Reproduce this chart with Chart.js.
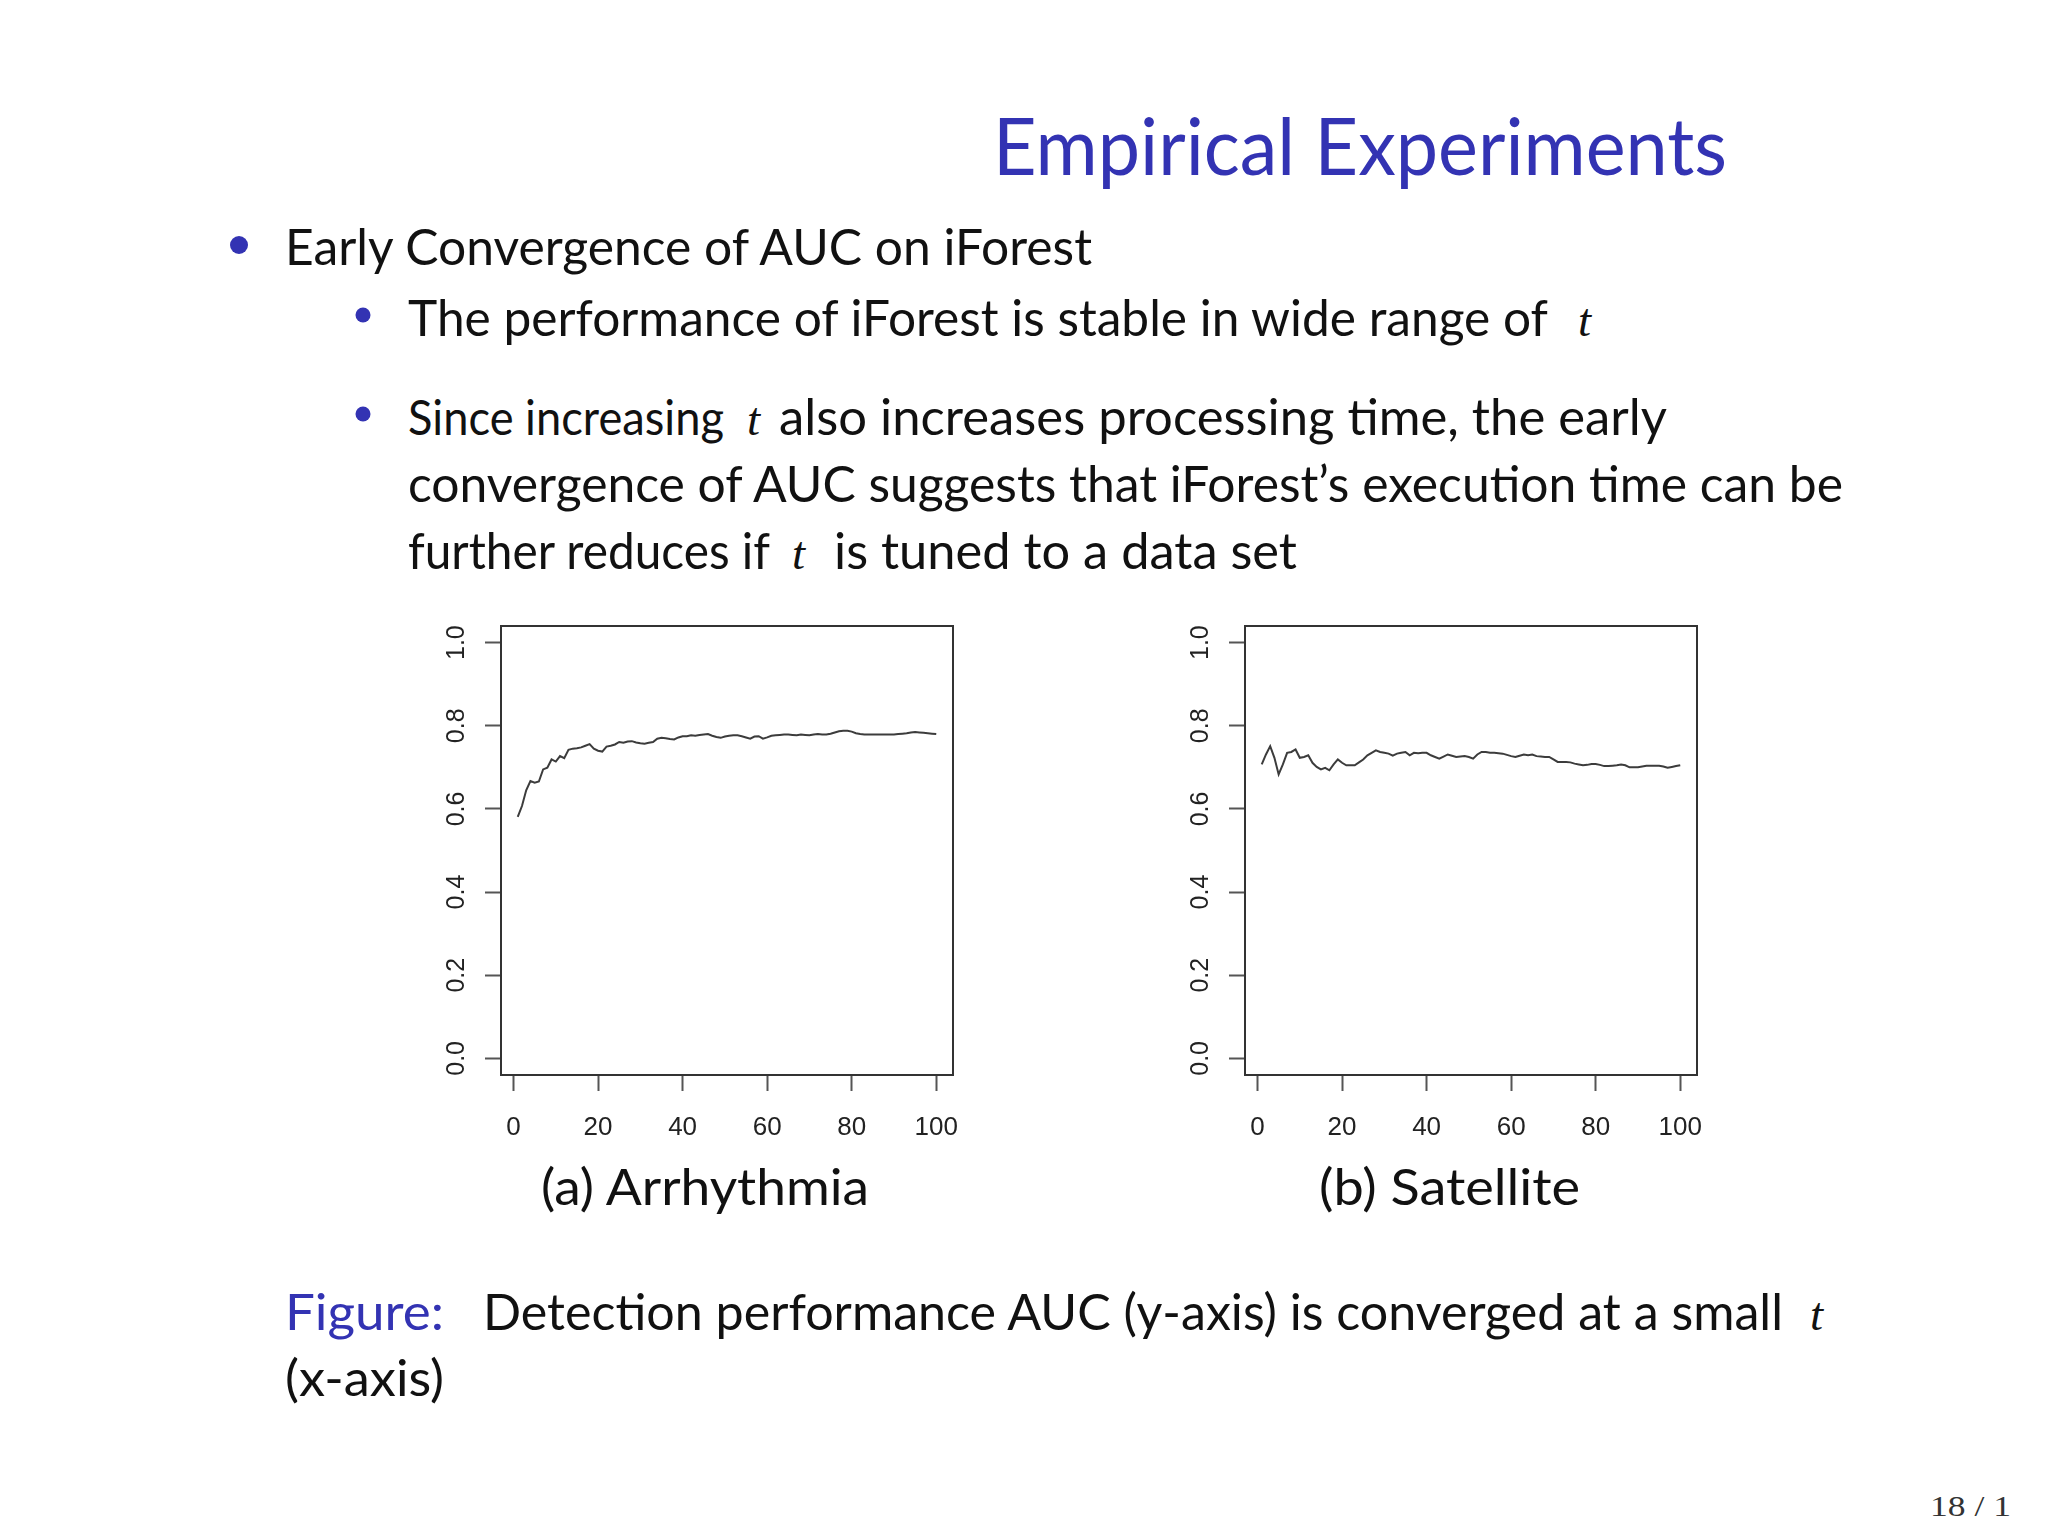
<!DOCTYPE html>
<html>
<head>
<meta charset="utf-8">
<script src="https://cdn.jsdelivr.net/npm/chart.js@4.4.1/dist/chart.umd.min.js"></script>
<style>
  html, body { margin: 0; padding: 0; background: #ffffff; }
  body { width: 2048px; height: 1536px; position: relative; overflow: hidden; }
  #slideText { position: absolute; left: 0; top: 0; }
  #slideText .m { font-family: 'Liberation Serif', serif; font-style: italic; }
  .plot { position: absolute; width: 560px; height: 540px; }
  #chartA { left: 420px; top: 600px; }
  #chartB { left: 1164px; top: 600px; }
</style>
</head>
<body>

<svg id="slideText" width="2048" height="1536" font-family="Lato, 'Open Sans', sans-serif">
  <text x="993" y="175" font-size="80" fill="#3333b3" textLength="734" lengthAdjust="spacingAndGlyphs">Empirical Experiments</text>

  <circle cx="239" cy="245" r="9" fill="#3333b3"/>
  <text x="285" y="265" font-size="51" fill="#111" textLength="807" lengthAdjust="spacingAndGlyphs">Early Convergence of AUC on iForest</text>

  <circle cx="363" cy="315" r="7.5" fill="#3333b3"/>
  <text x="408" y="336" font-size="51" fill="#111" textLength="1140" lengthAdjust="spacingAndGlyphs">The performance of iForest is stable in wide range of</text>
  <text class="m" x="1578" y="336" font-size="47" fill="#111">t</text>

  <circle cx="363" cy="414" r="7.5" fill="#3333b3"/>
  <text x="408" y="435" font-size="48" fill="#111" textLength="316" lengthAdjust="spacingAndGlyphs">Since increasing</text>
  <text class="m" x="747" y="435" font-size="47" fill="#111">t</text>
  <text x="779" y="435" font-size="51" fill="#111" textLength="888" lengthAdjust="spacingAndGlyphs">also increases processing time, the early</text>
  <text x="408" y="502" font-size="51" fill="#111" textLength="1435" lengthAdjust="spacingAndGlyphs">convergence of AUC suggests that iForest’s execution time can be</text>
  <text x="408" y="569" font-size="51" fill="#111" textLength="362" lengthAdjust="spacingAndGlyphs">further reduces if</text>
  <text class="m" x="792" y="569" font-size="47" fill="#111">t</text>
  <text x="834" y="569" font-size="51" fill="#111" textLength="463" lengthAdjust="spacingAndGlyphs">is tuned to a data set</text>

  <text x="541" y="1205" font-size="51" fill="#111" textLength="328" lengthAdjust="spacingAndGlyphs">(a) Arrhythmia</text>
  <text x="1319" y="1205" font-size="51" fill="#111" textLength="261" lengthAdjust="spacingAndGlyphs">(b) Satellite</text>

  <text x="285" y="1330" font-size="51" fill="#3333b3" textLength="159" lengthAdjust="spacingAndGlyphs">Figure:</text>
  <text x="483" y="1330" font-size="51" fill="#111" textLength="1300" lengthAdjust="spacingAndGlyphs">Detection performance AUC (y-axis) is converged at a small</text>
  <text class="m" x="1810" y="1330" font-size="47" fill="#111">t</text>
  <text x="285" y="1396" font-size="51" fill="#111" textLength="159" lengthAdjust="spacingAndGlyphs">(x-axis)</text>

  <text x="1930" y="1516" font-size="30" fill="#333" font-family="'Liberation Serif', serif" textLength="81" lengthAdjust="spacingAndGlyphs">18 / 1</text>
</svg>

<div class="plot" id="chartA"><canvas id="canvasA" width="560" height="540"></canvas></div>
<div class="plot" id="chartB"><canvas id="canvasB" width="560" height="540"></canvas></div>

<script>
// number of trees t
const trees = [
  1, 2, 3, 4, 5, 6, 7, 8, 9, 10,
  11, 12, 13, 14, 15, 16, 17, 18, 19, 20,
  21, 22, 23, 24, 25, 26, 27, 28, 29, 30,
  31, 32, 33, 34, 35, 36, 37, 38, 39, 40,
  41, 42, 43, 44, 45, 46, 47, 48, 49, 50,
  51, 52, 53, 54, 55, 56, 57, 58, 59, 60,
  61, 62, 63, 64, 65, 66, 67, 68, 69, 70,
  71, 72, 73, 74, 75, 76, 77, 78, 79, 80,
  81, 82, 83, 84, 85, 86, 87, 88, 89, 90,
  91, 92, 93, 94, 95, 96, 97, 98, 99, 100
];

// AUC
const aucArrhythmia = [
  0.581, 0.607, 0.645, 0.667, 0.663, 0.666, 0.695, 0.699, 0.719, 0.714,
  0.727, 0.722, 0.742, 0.745, 0.746, 0.748, 0.752, 0.756, 0.745, 0.740,
  0.738, 0.750, 0.752, 0.755, 0.761, 0.759, 0.762, 0.763, 0.760, 0.758,
  0.757, 0.759, 0.761, 0.769, 0.771, 0.770, 0.768, 0.767, 0.772, 0.775,
  0.775, 0.777, 0.776, 0.778, 0.779, 0.780, 0.776, 0.773, 0.771, 0.774,
  0.776, 0.777, 0.777, 0.775, 0.772, 0.769, 0.774, 0.775, 0.769, 0.772,
  0.776, 0.777, 0.778, 0.779, 0.779, 0.778, 0.777, 0.779, 0.778, 0.777,
  0.779, 0.780, 0.779, 0.779, 0.781, 0.784, 0.787, 0.788, 0.788, 0.786,
  0.782, 0.780, 0.779, 0.779, 0.779, 0.779, 0.779, 0.779, 0.779, 0.779,
  0.780, 0.781, 0.782, 0.784, 0.785, 0.784, 0.783, 0.782, 0.781, 0.780
];

// AUC
const aucSatellite = [
  0.707, 0.731, 0.751, 0.723, 0.683, 0.707, 0.735, 0.737, 0.743, 0.723,
  0.725, 0.729, 0.711, 0.701, 0.695, 0.699, 0.693, 0.707, 0.719, 0.711,
  0.705, 0.705, 0.705, 0.712, 0.719, 0.729, 0.735, 0.741, 0.737, 0.735,
  0.733, 0.728, 0.733, 0.735, 0.737, 0.729, 0.735, 0.734, 0.735, 0.735,
  0.729, 0.725, 0.721, 0.726, 0.731, 0.728, 0.725, 0.726, 0.727, 0.725,
  0.721, 0.731, 0.737, 0.737, 0.735, 0.735, 0.734, 0.733, 0.730, 0.727,
  0.725, 0.728, 0.731, 0.729, 0.731, 0.727, 0.726, 0.725, 0.725, 0.719,
  0.713, 0.713, 0.713, 0.712, 0.709, 0.707, 0.705, 0.706, 0.708, 0.708,
  0.706, 0.703, 0.703, 0.704, 0.705, 0.707, 0.705, 0.700, 0.700, 0.700,
  0.702, 0.704, 0.704, 0.704, 0.704, 0.702, 0.699, 0.701, 0.703, 0.705
];

const xTicks = [0, 20, 40, 60, 80, 100];
const yTicks = [0.0, 0.2, 0.4, 0.6, 0.8, 1.0];

// R style box around the plot region
const boxPlugin = {
  id: 'rbox',
  afterDraw(chart) {
    const a = chart.chartArea;
    const ctx = chart.ctx;
    ctx.save();
    ctx.strokeStyle = '#333333';
    ctx.lineWidth = 2;
    ctx.strokeRect(a.left, a.top, a.right - a.left, a.bottom - a.top);
    ctx.restore();
  }
};

function drawPanel(canvas, values) {
  const points = trees.map((t, i) => ({ x: t, y: values[i] }));
  new Chart(canvas, {
    type: 'line',
    data: {
      datasets: [{
        data: points,
        borderColor: '#3c3c3c',
        borderWidth: 2,
        pointRadius: 0,
        tension: 0,
        fill: false
      }]
    },
    options: {
      responsive: false,
      animation: false,
      layout: { padding: { top: 25, right: 27, bottom: 0, left: 0 } },
      plugins: { legend: { display: false }, tooltip: { enabled: false } },
      scales: {
        x: {
          type: 'linear',
          min: -2.96,
          max: 103.96,
          afterBuildTicks: (scale) => { scale.ticks = xTicks.map(v => ({ value: v })); },
          afterFit: (scale) => { scale.height = 65; },
          grid: { drawOnChartArea: false, drawTicks: true, tickLength: 16, tickWidth: 2, tickColor: '#555555' },
          border: { display: false },
          ticks: {
            padding: 21,
            maxRotation: 0,
            color: '#222222',
            font: { family: 'Liberation Sans', size: 26 },
            callback: (v) => String(v)
          }
        },
        y: {
          type: 'linear',
          min: -0.04,
          max: 1.04,
          afterBuildTicks: (scale) => { scale.ticks = yTicks.map(v => ({ value: v })); },
          afterFit: (scale) => { scale.width = 81; },
          grid: { drawOnChartArea: false, drawTicks: true, tickLength: 16, tickWidth: 2, tickColor: '#555555' },
          border: { display: false },
          ticks: {
            padding: 11,
            minRotation: 90,
            maxRotation: 90,
            crossAlign: 'center',
            color: '#222222',
            font: { family: 'Liberation Sans', size: 25 },
            callback: (v) => Number(v).toFixed(1)
          }
        }
      }
    },
    plugins: [boxPlugin]
  });
}

drawPanel(document.getElementById('canvasA'), aucArrhythmia);
drawPanel(document.getElementById('canvasB'), aucSatellite);
</script>
</body>
</html>
